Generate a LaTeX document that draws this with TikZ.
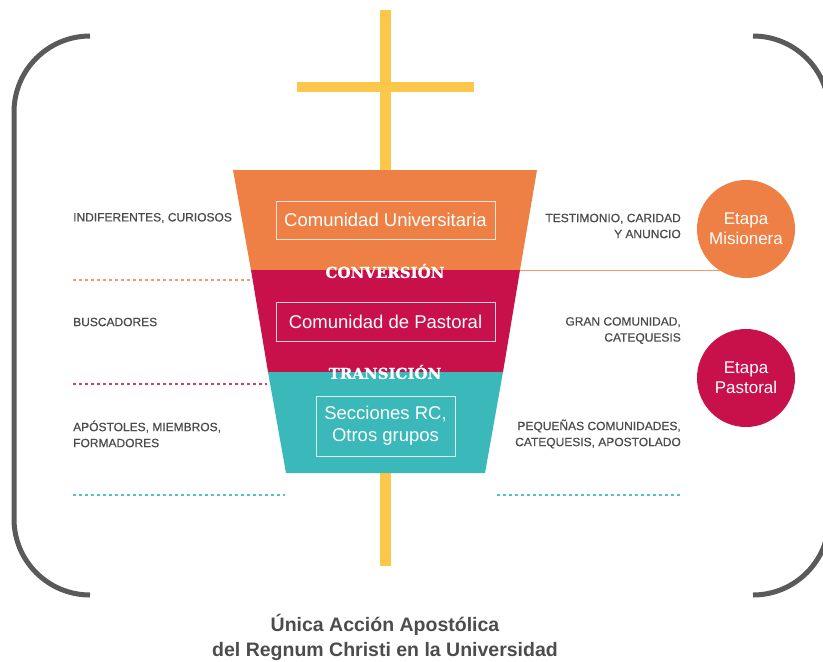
\documentclass[tikz,border=0pt]{standalone}
\usepackage{fontspec}
\setmainfont{Liberation Sans}
\newfontfamily\slabfont{DejaVu Serif}[BoldFont={DejaVu Serif Bold}, BoldFeatures={FakeBold=1.2}]
\newfontfamily\labelfont{Liberation Sans}[FakeBold=0.6]
\definecolor{cOrange}{HTML}{EE8045}
\definecolor{cRed}{HTML}{C8104B}
\definecolor{cTeal}{HTML}{3BB8B9}
\definecolor{cYellow}{HTML}{FCC84C}
\definecolor{cGray}{HTML}{5A5A5A}
\definecolor{cText}{HTML}{4C4C4C}
\definecolor{cOrLine}{HTML}{F29A6C}
\definecolor{cRedLine}{HTML}{D93A72}
\definecolor{cTealLine}{HTML}{4FC4C4}
\tikzset{
  bracket/.style={draw=cGray, line width=5pt, rounded corners=76pt},
  crossbar/.style={fill=cYellow},
  sidelabel/.style={text=cText, font=\labelfont\fontsize{12}{16}\selectfont, inner sep=0pt},
  innerbox/.style={draw=white, draw opacity=0.8, line width=0.9pt, text=white, font=\fontsize{18.5}{22}\selectfont, align=center, inner sep=0pt},
  stagelabel/.style={text=white, font=\slabfont\bfseries\fontsize{15}{17}\selectfont, inner sep=0pt},
  etapa/.style={circle, minimum size=98pt, inner sep=0pt, text=white, align=center, font=\fontsize{17}{20}\selectfont},
  dotline/.style={line width=1.6pt, dash pattern=on 3pt off 3pt},
}
\begin{document}
\begin{tikzpicture}[x=1pt,y=-1pt]
\clip (0,0) rectangle (823,662);
\fill[white] (0,0) rectangle (823,662);
% brackets
\draw[bracket] (90,36) -- (14,36) -- (14,595) -- (90,595);
\draw[bracket] (753,36) -- (829,36) -- (829,595) -- (753,595);
% cross
\fill[crossbar] (380,10) rectangle (391,566);
\fill[crossbar] (297,82) rectangle (474,92);
% funnel
\fill[cOrange] (233,170) -- (537,170) -- (520,270) -- (251,270) -- cycle;
\fill[cRed] (251,270) -- (520,270) -- (503,372) -- (268,372) -- cycle;
\fill[cTeal] (268,372) -- (503,372) -- (485,473) -- (286,473) -- cycle;
% dotted guide lines
\coordinate (ol1) at (73,280); \coordinate (ol2) at (250,280);
\coordinate (rl1) at (73,384); \coordinate (rl2) at (267,384);
\coordinate (tl1) at (73,495); \coordinate (tl2) at (285,495);
\coordinate (tr1) at (497,495); \coordinate (tr2) at (681,495);
\draw[dotline, cOrLine] (ol1) -- (ol2);
\draw[dotline, cRedLine] (rl1) -- (rl2);
\draw[dotline, cTealLine] (tl1) -- (tl2);
\draw[dotline, cTealLine] (tr1) -- (tr2);
% circles
\coordinate (fr) at (520,270);
\coordinate (mc) at (746,229);
\draw[cOrLine, line width=0.9pt] (fr) -- (fr -| mc);
\node[etapa, fill=cOrange] (mis) at (mc) {Etapa\\Misionera};
\node[etapa, fill=cRed] (pas) at (746,378) {Etapa\\Pastoral};
% inner boxes
\node[innerbox, minimum width=219pt, minimum height=38pt] (cu) at (385.5,220) {Comunidad Universitaria};
\node[innerbox, minimum width=219pt, minimum height=39pt] (cp) at (385.5,321.5) {Comunidad de Pastoral};
\node[innerbox, minimum width=139pt, minimum height=60pt] (sr) at (385.5,426) {Secciones RC,\\Otros grupos};
% stage labels
\node[stagelabel] (conv) at (385,271) {CONVERSIÓN};
\node[stagelabel] (tran) at (385,372) {TRANSICIÓN};
% side labels
\node[sidelabel, anchor=west] (l1) at (73,218) {INDIFERENTES, CURIOSOS};
\node[sidelabel, anchor=west] (l2) at (73,322) {BUSCADORES};
\node[sidelabel, anchor=west, align=left] (l3) at (73,434) {APÓSTOLES, MIEMBROS,\\FORMADORES};
\node[sidelabel, anchor=east, align=right] (r1) at (681,226) {TESTIMONIO, CARIDAD\\Y ANUNCIO};
\node[sidelabel, anchor=east, align=right] (r2) at (681,330.5) {GRAN COMUNIDAD,\\CATEQUESIS};
\node[sidelabel, anchor=east, align=right] (r3) at (681,434) {PEQUEÑAS COMUNIDADES,\\CATEQUESIS, APOSTOLADO};
% title
\node[text=cText, font=\bfseries\fontsize{19.5}{25}\selectfont, align=center] (title) at (385,637.5) {Única Acción Apostólica\\del Regnum Christi en la Universidad};
\end{tikzpicture}
\end{document}
